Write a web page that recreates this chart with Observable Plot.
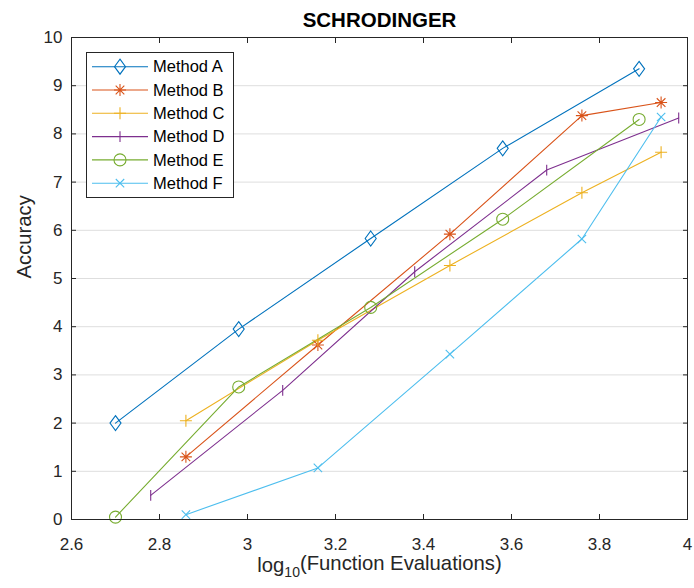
<!DOCTYPE html>
<html><head><meta charset="utf-8">
<script src="https://cdn.jsdelivr.net/npm/d3@7"></script>
<script src="https://cdn.jsdelivr.net/npm/@observablehq/plot@0.6"></script>
<style>
body{margin:0;background:#fff}
svg{font-family:"Liberation Sans",Arial,Helvetica,sans-serif}
</style>
</head><body><div id="chart"></div>
<script>
const title = "SCHRODINGER";
const xLabel = "log10(Function Evaluations)";
const yLabel = "Accuracy";
const methods = ["Method A","Method B","Method C","Method D","Method E","Method F"];
const colors = ["#0072BD","#D95319","#EDB120","#7E2F8E","#77AC30","#4DBEEE"];
const xTicks = [2.6,2.8,3,3.2,3.4,3.6,3.8,4];
const yTicks = [0,1,2,3,4,5,6,7,8,9,10];
const xA = [2.70,2.98,3.28,3.58,3.89]; const yA = [2.00,3.95,5.83,7.70,9.35];
const xB = [2.86,3.16,3.46,3.76,3.94]; const yB = [1.30,3.62,5.92,8.38,8.65];
const xC = [2.86,3.16,3.46,3.76,3.94]; const yC = [2.05,3.72,5.27,6.78,7.62];
const xD = [2.78,3.08,3.38,3.68,3.98]; const yD = [0.50,2.68,5.14,7.25,8.33];
const xE = [2.70,2.98,3.28,3.58,3.89]; const yE = [0.05,2.75,4.40,6.23,8.30];
const xF = [2.86,3.16,3.46,3.76,3.94]; const yF = [0.10,1.07,3.43,5.82,8.35];

const seriesX = [xA,xB,xC,xD,xE,xF];
const seriesY = [yA,yB,yC,yD,yE,yF];
const rows = [];
methods.forEach((m,i)=>seriesX[i].forEach((x,j)=>rows.push({method:m,x,y:seriesY[i][j]})));

function sym(fn){return {draw(ctx,size){fn(ctx,Math.sqrt(size/Math.PI));}};}
const symbols = [
  sym((c,s)=>{c.moveTo(0,-1.25*s);c.lineTo(0.92*s,0);c.lineTo(0,1.25*s);c.lineTo(-0.92*s,0);c.closePath();}),
  sym((c,s)=>{const d=s*0.72;c.moveTo(-s,0);c.lineTo(s,0);c.moveTo(0,-s);c.lineTo(0,s);c.moveTo(-d,-d);c.lineTo(d,d);c.moveTo(-d,d);c.lineTo(d,-d);}),
  sym((c,s)=>{c.moveTo(-s,0);c.lineTo(s,0);c.moveTo(0,-s);c.lineTo(0,s);}),
  sym((c,s)=>{c.moveTo(0,-0.9*s);c.lineTo(0,0.9*s);}),
  sym((c,s)=>{c.moveTo(s,0);c.arc(0,0,s,0,2*Math.PI);}),
  sym((c,s)=>{const d=s*0.7;c.moveTo(-d,-d);c.lineTo(d,d);c.moveTo(-d,d);c.lineTo(d,-d);})
];

const axisColor = "#262626";
const chart = Plot.plot({
  width: 694, height: 588,
  marginLeft: 71, marginRight: 7, marginTop: 37, marginBottom: 69,
  style: {fontFamily: '"Liberation Sans",Arial,sans-serif', fontSize: "17px", color: axisColor, background: "#fff"},
  x: {domain: [2.6,4]},
  y: {domain: [0,10]},
  color: {domain: methods, range: colors},
  marks: [
    Plot.gridY(yTicks, {stroke: "#dedede", strokeOpacity: 1}),
    Plot.line(rows, {x:"x", y:"y", z:"method", stroke:"method", strokeWidth:1.1}),
    ...methods.map((m,i)=>Plot.dot(rows.filter(d=>d.method===m), {x:"x", y:"y", symbol: symbols[i], r:6, stroke: colors[i], fill:"none", strokeWidth:1.1})),
    Plot.frame({stroke: axisColor}),
    Plot.axisX(xTicks, {anchor:"bottom", tickSize:-5, tickPadding:23, fontSize:17, label:null, stroke:axisColor, fill:axisColor, tickFormat: d=>String(d)}),
    Plot.axisX(xTicks, {anchor:"top", tickSize:-5, label:null, stroke:axisColor, fill:"none"}),
    Plot.axisY(yTicks, {anchor:"left", tickSize:-5, tickPadding:14, fontSize:17, label:null, stroke:axisColor, fill:axisColor}),
    Plot.axisY(yTicks, {anchor:"right", tickSize:-5, label:null, stroke:axisColor, fill:"none"}),
    Plot.text([title], {frameAnchor:"top", dy:-17, fontSize:20.5, fontWeight:"bold", fill:"#000", lineAnchor:"middle"}),
    Plot.text([xLabel], {frameAnchor:"bottom", dy:46, fontSize:20.3, fill:axisColor, lineAnchor:"middle"}),
    Plot.text([yLabel], {frameAnchor:"left", dx:-47, rotate:-90, fontSize:20.3, fill:axisColor, lineAnchor:"middle"})
  ]
});
document.getElementById("chart").append(chart);

// subscript in x label
const svg = d3.select(chart);
svg.selectAll("text").filter(function(){return this.textContent === xLabel;}).each(function(){
  const t = d3.select(this);
  t.text(null);
  t.append("tspan").text("log");
  t.append("tspan").attr("dy", "0.35em").attr("font-size", "14px").text("10");
  t.append("tspan").attr("dy", "-0.35em").text("(Function Evaluations)");
});

// legend
const lg = svg.append("g").attr("class", "legend").attr("text-anchor", "start");
lg.append("rect").attr("x", 86.5).attr("y", 52.5).attr("width", 147).attr("height", 145)
  .attr("fill", "#fff").attr("stroke", axisColor).attr("stroke-width", 1);
methods.forEach((m,i)=>{
  const cy = 66.7 + i*23.3;
  lg.append("line").attr("x1", 92).attr("x2", 148).attr("y1", cy).attr("y2", cy)
    .attr("stroke", colors[i]).attr("stroke-width", 1.1);
  const p = d3.path(); symbols[i].draw(p, 36*Math.PI);
  lg.append("path").attr("d", p.toString()).attr("transform", `translate(120,${cy})`)
    .attr("fill", "none").attr("stroke", colors[i]).attr("stroke-width", 1.1);
  lg.append("text").attr("x", 153).attr("y", cy).attr("dy", "0.35em")
    .attr("text-anchor", "start").attr("font-size", "16.5px").attr("fill", "#000").text(m);
});
</script>
</body></html>
